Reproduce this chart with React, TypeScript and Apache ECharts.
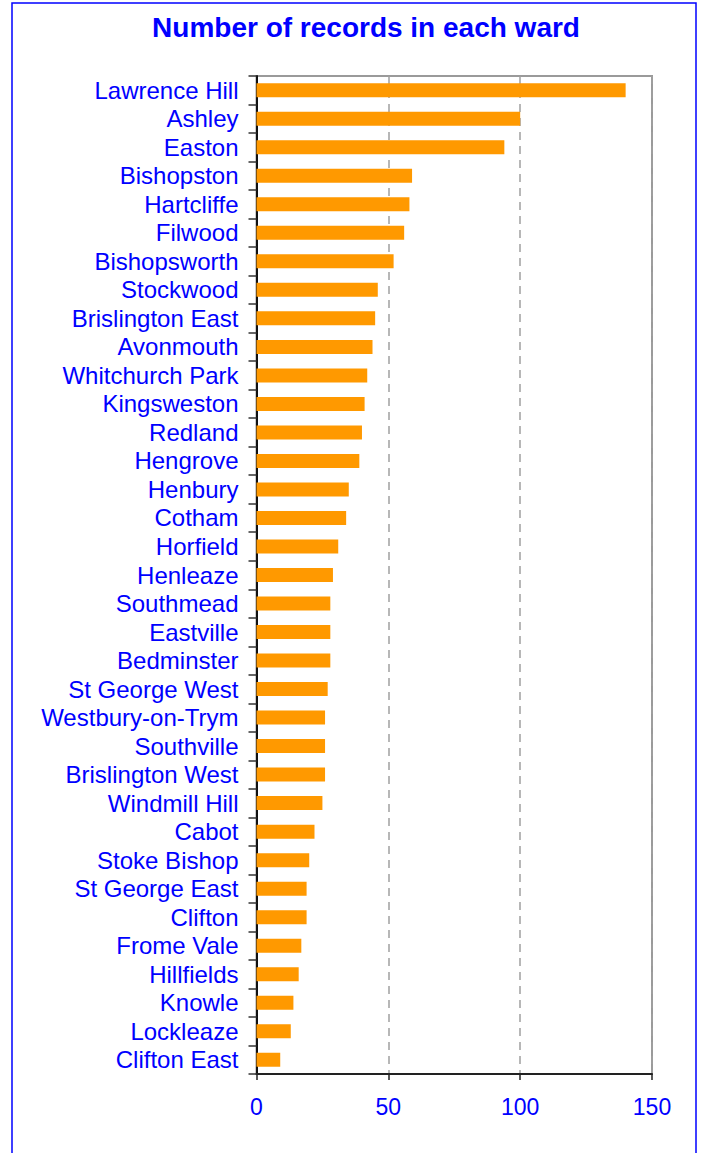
import React, { useEffect, useRef } from "react";
import * as echarts from "echarts";

const wards: string[] = [
  "Lawrence Hill", "Ashley", "Easton", "Bishopston", "Hartcliffe", "Filwood",
  "Bishopsworth", "Stockwood", "Brislington East", "Avonmouth", "Whitchurch Park",
  "Kingsweston", "Redland", "Hengrove", "Henbury", "Cotham", "Horfield", "Henleaze",
  "Southmead", "Eastville", "Bedminster", "St George West", "Westbury-on-Trym",
  "Southville", "Brislington West", "Windmill Hill", "Cabot", "Stoke Bishop",
  "St George East", "Clifton", "Frome Vale", "Hillfields", "Knowle", "Lockleaze",
  "Clifton East",
];

const records: number[] = [
  140, 100, 94, 59, 58, 56, 52, 46, 45, 44, 42, 41, 40, 39, 35, 34, 31, 29,
  28, 28, 28, 27, 26, 26, 26, 25, 22, 20, 19, 19, 17, 16, 14, 13, 9,
];

const xTicks: number[] = [0, 50, 100, 150];

const chartTitle = "Number of records in each ward";

export default function App() {
  const ref = useRef<HTMLDivElement>(null);

  useEffect(() => {
    document.body.style.margin = "0";
    if (!ref.current) return;
    const chart = echarts.init(ref.current, null, { renderer: "svg" });
    const font = "'Liberation Sans', Arial, sans-serif";
    chart.setOption({
      animation: false,
      backgroundColor: "#ffffff",
      title: {
        text: chartTitle,
        left: 361,
        top: 8,
        textAlign: "center",
        textStyle: {
          color: "#0000ff",
          fontFamily: font,
          fontWeight: "bold",
          fontSize: 28,
        },
      },
      graphic: [
        {
          type: "rect",
          shape: { x: 12, y: 3, width: 684, height: 1180 },
          style: { fill: "none", stroke: "#0000ff", lineWidth: 1.5 },
          silent: true,
        },
      ],
      grid: {
        left: 256.5,
        right: 52,
        top: 76,
        bottom: 79,
        show: true,
        borderColor: "#9a9a9a",
        borderWidth: 2,
        backgroundColor: "transparent",
      },
      xAxis: {
        type: "value",
        min: xTicks[0],
        max: xTicks[xTicks.length - 1],
        interval: 50,
        axisLine: { show: true, lineStyle: { color: "#222", width: 2 } },
        axisTick: { show: true, length: 6, lineStyle: { color: "#222", width: 1.5 } },
        splitLine: {
          show: true,
          lineStyle: { color: "#a0a0a0", type: [8, 6], width: 1.5 },
        },
        axisLabel: {
          color: "#0000ff",
          fontFamily: font,
          fontSize: 23,
          margin: 21,
        },
      },
      yAxis: {
        type: "category",
        data: wards,
        inverse: true,
        axisLine: { show: true, lineStyle: { color: "#111", width: 2 } },
        axisTick: { show: true, length: 8, lineStyle: { color: "#333", width: 1.5 } },
        splitLine: { show: false },
        axisLabel: {
          color: "#0000ff",
          fontFamily: font,
          fontSize: 24,
          margin: 18,
          interval: 0,
        },
      },
      series: [
        {
          type: "bar",
          data: records,
          barWidth: 14,
          itemStyle: { color: "#ff9900" },
          z: 1,
        },
      ],
    });
    return () => chart.dispose();
  }, []);

  return (
    <div
      ref={ref}
      style={{ position: "absolute", left: 0, top: 0, width: 704, height: 1153 }}
    />
  );
}
